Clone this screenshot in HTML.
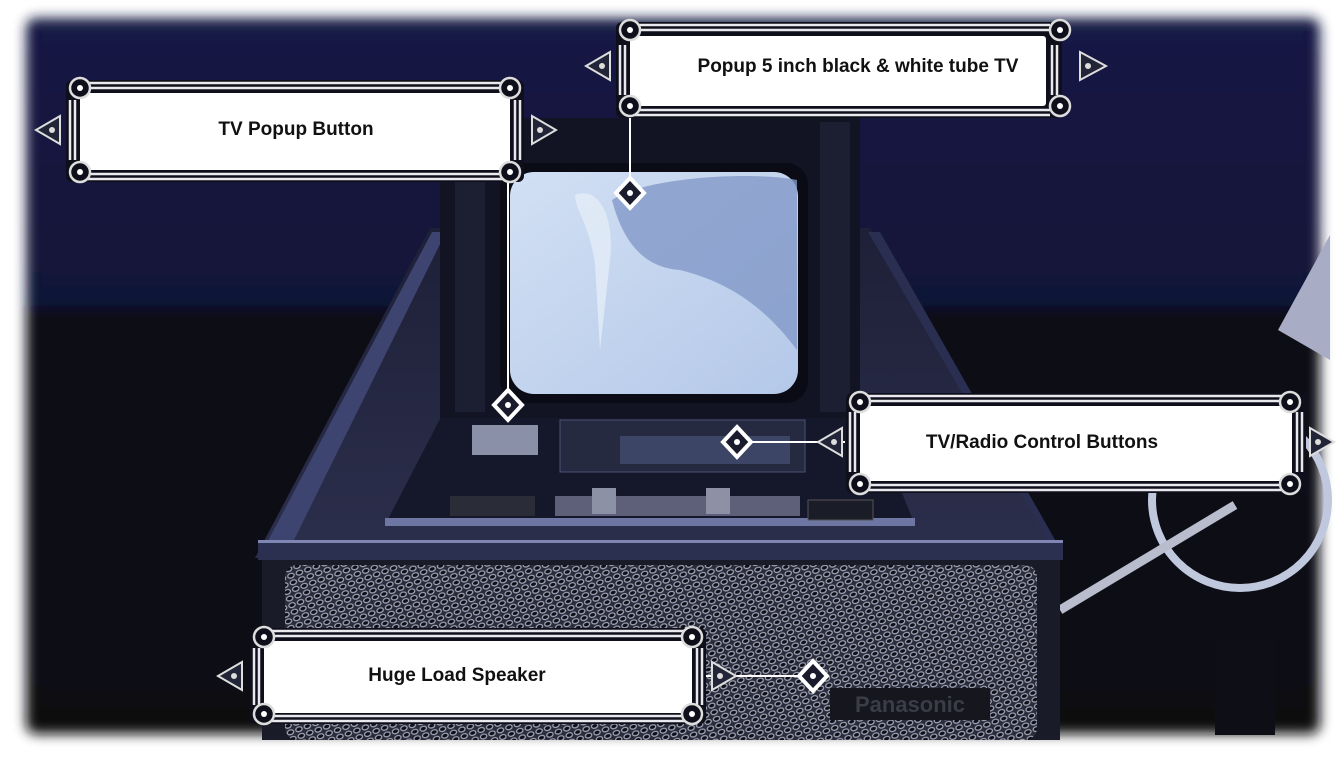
<!DOCTYPE html>
<html><head><meta charset="utf-8"><style>
html,body{margin:0;padding:0;background:#fff;width:1344px;height:757px;overflow:hidden}
svg{display:block}
text{font-family:"Liberation Sans",sans-serif;font-weight:bold;fill:#111}
</style></head><body>
<svg width="1344" height="757" viewBox="0 0 1344 757" xmlns="http://www.w3.org/2000/svg">
<defs>
<linearGradient id="bg" x1="0" y1="0" x2="0" y2="1">
<stop offset="0" stop-color="#171a45"/><stop offset="0.4" stop-color="#111338"/><stop offset="0.41" stop-color="#0b0c17"/><stop offset="1" stop-color="#090a11"/></linearGradient>
<filter id="blur" x="-5%" y="-5%" width="110%" height="110%"><feGaussianBlur stdDeviation="6"/></filter>
<pattern id="mesh" width="9" height="7" patternUnits="userSpaceOnUse" patternTransform="rotate(-20)">
<rect width="9" height="7" fill="#2a2c3c"/><ellipse cx="4.5" cy="3.5" rx="3.3" ry="2.3" fill="#0e0f18" stroke="#a8acbc" stroke-width="1.2"/></pattern>
<linearGradient id="scr" x1="0" y1="0" x2="1" y2="1"><stop offset="0" stop-color="#d2e0f4"/><stop offset="1" stop-color="#b4c8e8"/></linearGradient>
<linearGradient id="cab" x1="0" y1="0" x2="0" y2="1"><stop offset="0" stop-color="#1e2038"/><stop offset="1" stop-color="#2c2f4c"/></linearGradient>
</defs>
<rect x="26" y="18" width="1294" height="716" rx="10" fill="url(#bg)" filter="url(#blur)"/>
<!-- right side objects -->
<polygon points="1278,330 1330,235 1330,360" fill="#a8acc4"/>
<circle cx="1240" cy="500" r="88" fill="none" stroke="#c0c8de" stroke-width="8"/>
<line x1="1060" y1="610" x2="1235" y2="505" stroke="#b8bccc" stroke-width="9"/>
<rect x="1215" y="640" width="60" height="95" fill="#0e0f16"/>
<!-- cabinet -->
<polygon points="255,558 430,228 870,228 1062,558" fill="url(#cab)"/>
<polygon points="262,552 432,232 446,232 290,548" fill="#3e4470"/>
<polygon points="1055,552 868,232 880,232 1062,552" fill="#2a2e50"/>
<polygon points="385,525 455,390 860,390 915,525" fill="#15172a"/>
<rect x="385" y="518" width="530" height="8" fill="#6e76a4"/>
<rect x="258" y="540" width="805" height="20" fill="#2c3050"/>
<rect x="258" y="540" width="805" height="3" fill="#7f86b4"/>
<rect x="262" y="560" width="798" height="180" fill="#1a1b28"/>
<rect x="285" y="565" width="752" height="175" rx="12" fill="url(#mesh)"/>
<rect x="830" y="688" width="160" height="32" fill="#15161e"/>
<text x="910" y="712" text-anchor="middle" font-size="22" style="fill:#3a3c48">Panasonic</text>
<!-- bezel -->
<rect x="440" y="118" width="420" height="300" fill="#121424"/>
<rect x="455" y="122" width="30" height="290" fill="#1c1f32"/>
<rect x="820" y="122" width="30" height="290" fill="#1c1f32"/>
<rect x="500" y="163" width="308" height="240" rx="22" fill="#0a0b14"/>
<rect x="510" y="172" width="288" height="222" rx="24" fill="url(#scr)"/>
<path d="M612,200 C650,175 760,172 797,180 L797,350 C760,300 720,280 680,270 C650,268 625,250 612,200Z" fill="#8298c8" opacity="0.8"/>
<path d="M575,195 C600,185 615,220 610,260 L600,350 L595,265 C590,225 575,210 575,195Z" fill="#e4ecf8" opacity="0.8"/>
<!-- control panel -->
<rect x="472" y="425" width="66" height="30" fill="#8a90a8"/>
<rect x="560" y="420" width="245" height="52" fill="#252a40" stroke="#4a5274"/>
<rect x="620" y="436" width="170" height="28" fill="#424c6e" opacity="0.8"/>
<rect x="450" y="496" width="85" height="20" fill="#2a2c38"/>
<rect x="555" y="496" width="245" height="20" fill="#5d6078"/>
<rect x="592" y="488" width="24" height="26" fill="#8d91a5"/>
<rect x="706" y="488" width="24" height="26" fill="#8d91a5"/>
<rect x="808" y="500" width="65" height="20" fill="#1a1c28" stroke="#555"/>

<!-- connectors -->
<g stroke="#fff" stroke-width="2" fill="none">
<line x1="630" y1="108" x2="630" y2="185"/>
<line x1="508" y1="172" x2="508" y2="397"/>
<line x1="745" y1="442" x2="845" y2="442"/>
<line x1="705" y1="676" x2="805" y2="676"/>
</g>
<g fill="#1a1c2e" stroke="#fff" stroke-width="4">
<polygon points="630,178 644,193 630,208 616,193"/>
<polygon points="508,390 522,405 508,420 494,405"/>
<polygon points="737,427 751,442 737,457 723,442"/>
<polygon points="813,661 827,676 813,691 799,676"/>
</g>
<g fill="#fff"><circle cx="630" cy="193" r="3"/><circle cx="508" cy="405" r="3"/><circle cx="737" cy="442" r="3"/><circle cx="813" cy="676" r="3"/></g>

<!-- label frames -->
<g>
<rect x="66" y="80" width="458" height="102" rx="6" fill="#0e0f1a"/>
<g stroke="#e8e8ee" stroke-width="2.5">
<line x1="78" y1="83" x2="512" y2="83"/><line x1="78" y1="88" x2="512" y2="88"/>
<line x1="78" y1="174" x2="512" y2="174"/><line x1="78" y1="179" x2="512" y2="179"/>
<line x1="70" y1="100" x2="70" y2="160"/><line x1="75" y1="100" x2="75" y2="160"/>
<line x1="515" y1="100" x2="515" y2="160"/><line x1="520" y1="100" x2="520" y2="160"/>
</g>
<rect x="80" y="93" width="430" height="77" rx="3" fill="#fff"/>
</g>
<g>
<rect x="616" y="22" width="446" height="96" rx="6" fill="#0e0f1a"/>
<g stroke="#e8e8ee" stroke-width="2.5">
<line x1="628" y1="25" x2="1050" y2="25"/><line x1="628" y1="30" x2="1050" y2="30"/>
<line x1="628" y1="110" x2="1050" y2="110"/><line x1="628" y1="115" x2="1050" y2="115"/>
<line x1="620" y1="45" x2="620" y2="95"/><line x1="625" y1="45" x2="625" y2="95"/>
<line x1="1052" y1="45" x2="1052" y2="95"/><line x1="1057" y1="45" x2="1057" y2="95"/>
</g>
<rect x="630" y="36" width="416" height="70" rx="3" fill="#fff"/>
</g>
<g>
<rect x="846" y="393" width="460" height="100" rx="6" fill="#0e0f1a"/>
<g stroke="#e8e8ee" stroke-width="2.5">
<line x1="858" y1="396" x2="1294" y2="396"/><line x1="858" y1="401" x2="1294" y2="401"/>
<line x1="858" y1="485" x2="1294" y2="485"/><line x1="858" y1="490" x2="1294" y2="490"/>
<line x1="850" y1="412" x2="850" y2="472"/><line x1="855" y1="412" x2="855" y2="472"/>
<line x1="1297" y1="412" x2="1297" y2="472"/><line x1="1302" y1="412" x2="1302" y2="472"/>
</g>
<rect x="860" y="406" width="432" height="75" rx="3" fill="#fff"/>
</g>
<g>
<rect x="250" y="628" width="456" height="96" rx="6" fill="#0e0f1a"/>
<g stroke="#e8e8ee" stroke-width="2.5">
<line x1="262" y1="631" x2="694" y2="631"/><line x1="262" y1="636" x2="694" y2="636"/>
<line x1="262" y1="716" x2="694" y2="716"/><line x1="262" y1="721" x2="694" y2="721"/>
<line x1="254" y1="648" x2="254" y2="705"/><line x1="259" y1="648" x2="259" y2="705"/>
<line x1="697" y1="648" x2="697" y2="705"/><line x1="702" y1="648" x2="702" y2="705"/>
</g>
<rect x="264" y="641" width="428" height="72" rx="3" fill="#fff"/>
</g>
<!-- corner ornaments -->
<g fill="#0e0f1a" stroke="#ddd" stroke-width="2.5">
<circle cx="80" cy="88" r="10"/><circle cx="510" cy="88" r="10"/><circle cx="80" cy="172" r="10"/><circle cx="510" cy="172" r="10"/>
<circle cx="630" cy="30" r="10"/><circle cx="1060" cy="30" r="10"/><circle cx="630" cy="106" r="10"/><circle cx="1060" cy="106" r="10"/>
<circle cx="860" cy="402" r="10"/><circle cx="1290" cy="402" r="10"/><circle cx="860" cy="484" r="10"/><circle cx="1290" cy="484" r="10"/>
<circle cx="264" cy="637" r="10"/><circle cx="692" cy="637" r="10"/><circle cx="264" cy="714" r="10"/><circle cx="692" cy="714" r="10"/>
</g>
<g fill="#fff"><circle cx="80" cy="88" r="3"/><circle cx="510" cy="88" r="3"/><circle cx="80" cy="172" r="3"/><circle cx="510" cy="172" r="3"/>
<circle cx="630" cy="30" r="3"/><circle cx="1060" cy="30" r="3"/><circle cx="630" cy="106" r="3"/><circle cx="1060" cy="106" r="3"/>
<circle cx="860" cy="402" r="3"/><circle cx="1290" cy="402" r="3"/><circle cx="860" cy="484" r="3"/><circle cx="1290" cy="484" r="3"/>
<circle cx="264" cy="637" r="3"/><circle cx="692" cy="637" r="3"/><circle cx="264" cy="714" r="3"/><circle cx="692" cy="714" r="3"/></g>
<g fill="#222438" stroke="#ddd" stroke-width="2">
<path d="M36,130 L60,116 L60,144 Z M532,116 L556,130 L532,144 Z"/>
<path d="M586,66 L610,52 L610,80 Z M1080,52 L1106,66 L1080,80 Z"/>
<path d="M818,442 L842,428 L842,456 Z M1310,428 L1334,442 L1310,456 Z"/>
<path d="M218,676 L242,662 L242,690 Z M712,662 L736,676 L712,690 Z"/>
</g>
<g fill="#ddd"><circle cx="52" cy="130" r="3"/><circle cx="540" cy="130" r="3"/><circle cx="602" cy="66" r="3"/><circle cx="1088" cy="66" r="3"/><circle cx="834" cy="442" r="3"/><circle cx="1318" cy="442" r="3"/><circle cx="234" cy="676" r="3"/><circle cx="720" cy="676" r="3"/></g>
<text x="296" y="135" font-size="19" text-anchor="middle">TV Popup Button</text>
<text x="858" y="72" font-size="19" text-anchor="middle">Popup 5 inch black &amp; white tube TV</text>
<text x="1042" y="448" font-size="19" text-anchor="middle">TV/Radio Control Buttons</text>
<text x="457" y="681" font-size="19" text-anchor="middle">Huge Load Speaker</text>
</svg>
</body></html>
